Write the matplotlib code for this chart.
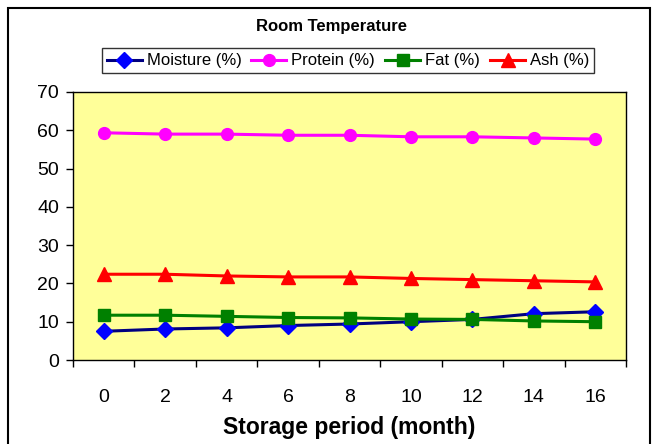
import matplotlib
matplotlib.use("Agg")
import matplotlib.pyplot as plt
from matplotlib.patches import Rectangle

plt.rcParams['font.family'] = ['Liberation Sans', 'DejaVu Sans']

months = [0, 2, 4, 6, 8, 10, 12, 14, 16]
moisture = [7.5, 8.1, 8.4, 9.0, 9.4, 10.0, 10.6, 12.1, 12.6]
protein = [59.35, 59.0, 59.0, 58.7, 58.7, 58.3, 58.3, 58.0, 57.7]
fat = [11.7, 11.7, 11.4, 11.1, 11.0, 10.7, 10.6, 10.2, 10.0]
ash = [22.4, 22.4, 21.95, 21.7, 21.7, 21.3, 21.0, 20.7, 20.4]
labels = ['Moisture (%)', 'Protein (%)', 'Fat (%)', 'Ash (%)']
yticks = [0, 10, 20, 30, 40, 50, 60, 70]

W, H = 655, 444
fig = plt.figure(figsize=(W / 100, H / 100), dpi=100)
ax = fig.add_axes([73 / W, 1 - 360 / H, (626 - 73) / W, (360 - 92) / H])
ax.set_facecolor('#FFFF99')

ax.plot(months, moisture, color='#000080', lw=2.2, marker='D', ms=8,
        mfc='#0000FF', mec='#0000FF', label=labels[0])
ax.plot(months, protein, color='#FF00FF', lw=2.2, marker='o', ms=8.5,
        mfc='#FF00FF', mec='#FF00FF', label=labels[1])
ax.plot(months, fat, color='#008000', lw=2.2, marker='s', ms=8.5,
        mfc='#008000', mec='#008000', label=labels[2])
ax.plot(months, ash, color='#FF0000', lw=2.2, marker='^', ms=10,
        mfc='#FF0000', mec='#FF0000', label=labels[3])

ax.set_xlim(-1, 17)
ax.set_ylim(0, 70)
ax.set_yticks(yticks)
ax.set_xticks(months)
ax.set_xticks([m + 1 for m in [-2] + months], minor=True)
ax.tick_params(axis='x', which='major', length=0, pad=21, labelsize=14)
ax.tick_params(axis='x', which='minor', length=5, direction='out', width=1)
ax.tick_params(axis='y', length=5, direction='out', width=1, labelsize=14, pad=5)
for s in ax.spines.values():
    s.set_color('black')
    s.set_linewidth(1)

ax.set_xlabel('Storage period (month)', fontsize=16.5, fontweight='bold', labelpad=7)

fig.text(331 / W, 1 - 26 / H, 'Room Temperature', ha='center', va='center',
         fontsize=12, fontweight='bold')

leg = fig.legend(loc='center', bbox_to_anchor=(348 / W, 1 - 61 / H), ncol=4,
                 fontsize=12, frameon=True, fancybox=False, edgecolor='black',
                 handlelength=2.1, handletextpad=0.3, columnspacing=0.6,
                 borderpad=0.3, borderaxespad=0)
leg.get_frame().set_linewidth(1)

fig.patches.append(Rectangle((8 / W, -0.05), (650 - 8) / W, 1 - 8 / H + 0.05,
                             transform=fig.transFigure, fill=False,
                             edgecolor='black', linewidth=1.5))

fig.savefig('out.png', dpi=100)
